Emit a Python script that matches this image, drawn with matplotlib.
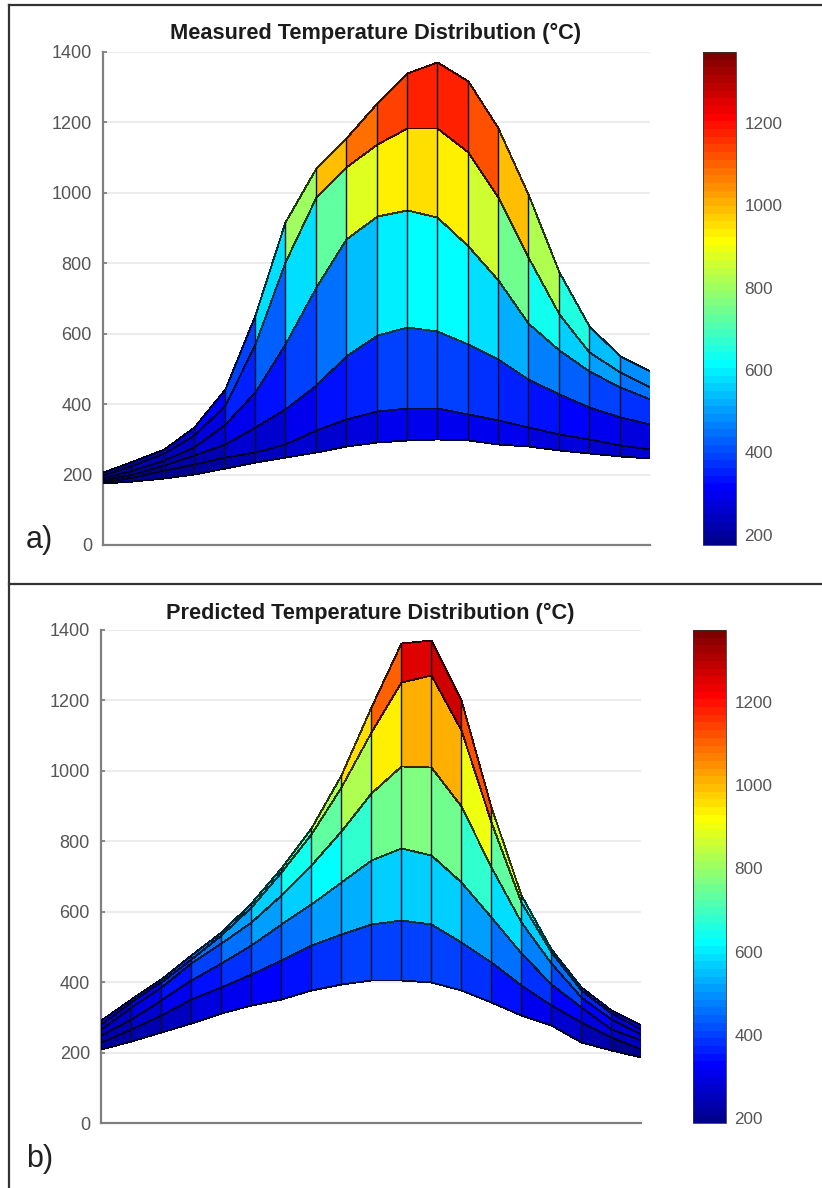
import matplotlib
matplotlib.use("Agg")
import matplotlib.pyplot as plt
from matplotlib.colors import ListedColormap
from matplotlib.lines import Line2D
import numpy as np

plt.rcParams["font.family"] = ["Liberation Sans", "DejaVu Sans"]

# temperature levels, one list per contour, 19 stations
station = list(range(1, 20))

meas_0 = [175, 182, 189, 203, 219, 236, 250, 265, 281, 293, 299, 302, 298, 288, 281, 271, 260, 253, 246]
meas_1 = [178, 192, 213, 230, 250, 265, 288, 326, 359, 381, 389, 389, 373, 354, 335, 316, 300, 283, 274]
meas_2 = [184, 203, 227, 255, 288, 335, 387, 455, 538, 595, 619, 609, 572, 529, 472, 430, 392, 364, 345]
meas_3 = [191, 213, 241, 279, 345, 435, 570, 734, 869, 933, 952, 931, 850, 753, 630, 553, 494, 449, 416]
meas_4 = [199, 227, 260, 312, 397, 572, 803, 987, 1074, 1138, 1183, 1183, 1115, 987, 817, 657, 548, 491, 449]
meas_5 = [208, 239, 274, 335, 444, 652, 916, 1070, 1157, 1255, 1340, 1372, 1318, 1184, 997, 775, 621, 538, 493]

pred_0 = [211, 233, 259, 284, 313, 334, 353, 377, 394, 405, 405, 401, 377, 344, 306, 278, 230, 206, 188]
pred_1 = [230, 268, 306, 353, 386, 424, 462, 505, 536, 566, 576, 565, 514, 457, 391, 334, 287, 244, 211]
pred_2 = [249, 296, 349, 407, 453, 505, 566, 623, 685, 748, 780, 761, 685, 585, 483, 396, 330, 268, 235]
pred_3 = [268, 330, 386, 453, 510, 571, 647, 732, 830, 936, 1014, 1010, 900, 727, 571, 453, 358, 296, 254]
pred_4 = [282, 344, 401, 467, 533, 612, 713, 822, 955, 1111, 1253, 1272, 1116, 855, 628, 486, 377, 311, 268]
pred_5 = [292, 353, 410, 476, 543, 625, 723, 839, 988, 1180, 1362, 1373, 1201, 898, 647, 495, 386, 320, 278]

y_ticks = [0, 200, 400, 600, 800, 1000, 1200, 1400]
cbar_ticks = [200, 400, 600, 800, 1000, 1200]

W, H = 822, 1188


def matlab_jet(m=64):
    # same construction as MATLAB's jet, its yellow sits a bit lower than matplotlib's
    n = int(np.ceil(m / 4))
    u = np.r_[np.arange(1, n + 1) / n, np.ones(n - 1), np.arange(n, 0, -1) / n]
    g = int(np.ceil(n / 2)) - (m % 4 == 1) + np.arange(1, len(u) + 1)
    r = g + n
    b = g - n
    rgb = np.zeros((m, 3))
    rgb[r[r <= m] - 1, 0] = u[:np.sum(r <= m)]
    rgb[g[g <= m] - 1, 1] = u[:np.sum(g <= m)]
    rgb[b[b >= 1] - 1, 2] = u[-np.sum(b >= 1):]
    return ListedColormap(rgb)


jet = matlab_jet()


def px_axes(fig, left, right, top, bottom):
    # axes placed from pixel edges of the picture
    return fig.add_axes([left / W, 1 - bottom / H, (right - left) / W, (bottom - top) / H])


def draw_panel(fig, levels, title, tag, box, cbar_box, title_x, title_y, tag_y):
    ax = px_axes(fig, *box)
    z = np.array(levels, dtype=float)
    x = np.tile(np.array(station, dtype=float), (z.shape[0], 1))
    # flat shading: each face takes the colour of its lower left corner
    mesh = ax.pcolormesh(x, z, z[:-1, :-1], cmap=jet, vmin=z.min(), vmax=z.max(),
                         shading="flat", linewidth=0.6, zorder=3)
    # edges dark but tinted by the face, they melt into the dark blue part
    edge = mesh.to_rgba(z[:-1, :-1].ravel())
    edge[:, :3] *= 0.22
    mesh.set_edgecolors(edge)
    # the mesh draws its vertical edges too faint, go over them once more
    ax.vlines(station[1:-1], z[0, 1:-1], z[-1, 1:-1], colors="#0c1026", linewidth=1.0, zorder=4)

    ax.set_xlim(station[0], station[-1])
    ax.set_ylim(0, 1400)
    ax.set_xticks([])
    ax.set_yticks(y_ticks)
    ax.set_yticklabels([str(t) for t in y_ticks], fontsize=13, color="#555555")
    ax.tick_params(axis="y", direction="in", length=3, width=1.2, color="#777777", pad=8)
    ax.grid(True, axis="y", color="#ececec", linewidth=1.5, zorder=0)
    ax.set_axisbelow(True)
    ax.spines["top"].set_visible(False)
    ax.spines["right"].set_visible(False)
    for side in ["left", "bottom"]:
        ax.spines[side].set_color("#808080")
        ax.spines[side].set_linewidth(1.6)

    fig.text(title_x / W, 1 - title_y / H, title, fontsize=15.7, fontweight="bold",
             color="#1c1c1c", ha="center", va="center")
    fig.text(26 / W, 1 - tag_y / H, tag, fontsize=22, color="#222222", ha="left", va="center")

    cax = px_axes(fig, *cbar_box)
    cb = fig.colorbar(mesh, cax=cax)
    cb.set_ticks(cbar_ticks)
    cb.ax.tick_params(length=0, pad=6, labelsize=12.3, labelcolor="#555555")
    cb.outline.set_linewidth(0.6)
    cb.outline.set_edgecolor("#333333")
    return ax


def main():
    fig = plt.figure(figsize=(W / 100, H / 100), dpi=100, facecolor="white")

    draw_panel(fig, [meas_0, meas_1, meas_2, meas_3, meas_4, meas_5],
               "Measured Temperature Distribution (°C)", "a)",
               (103, 650, 52, 545), (703, 736, 52, 545), 376, 33, 540)
    draw_panel(fig, [pred_0, pred_1, pred_2, pred_3, pred_4, pred_5],
               "Predicted Temperature Distribution (°C)", "b)",
               (101, 641, 630, 1123), (693, 726, 630, 1123), 370.5, 613, 1159)

    # outer frame of the composed figure: left, top and the divider between panels
    frame = dict(color="#333333", linewidth=1.6, transform=fig.transFigure)
    fig.add_artist(Line2D([8.5 / W, 8.5 / W], [0, 1 - 5 / H], **frame))
    fig.add_artist(Line2D([8.5 / W, 1], [1 - 5 / H, 1 - 5 / H], **frame))
    fig.add_artist(Line2D([8.5 / W, 1], [1 - 583.5 / H, 1 - 583.5 / H], **frame))

    fig.savefig("out.png", dpi=100, facecolor="white")
    plt.close(fig)


if __name__ == "__main__":
    main()
